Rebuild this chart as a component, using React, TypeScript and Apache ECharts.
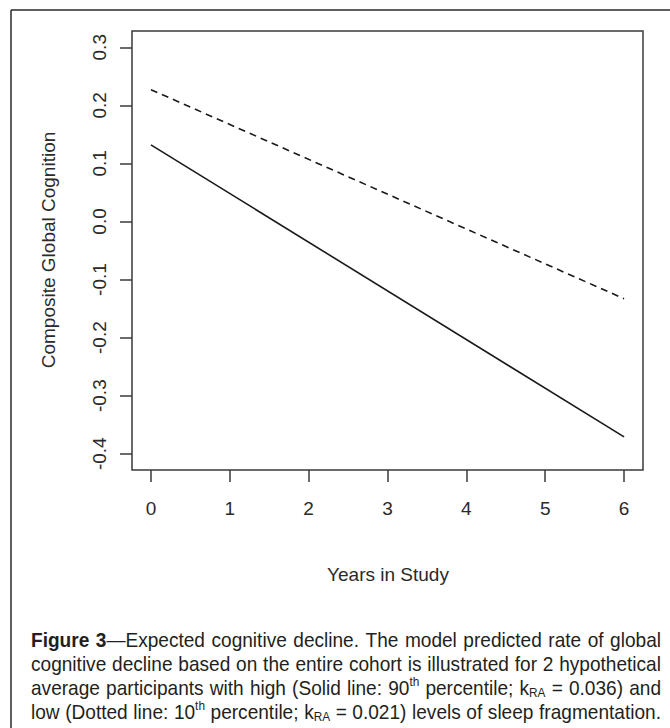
import React, { useEffect, useRef } from "react";
import * as echarts from "echarts";

// ---- data ----
const xYears = [0, 6];
const highFragmentation = [0.132, -0.371]; // solid line (90th percentile)
const lowFragmentation = [0.227, -0.133]; // dashed line (10th percentile)
const xTicks = [0, 1, 2, 3, 4, 5, 6];
const xTickLabels = ["0", "1", "2", "3", "4", "5", "6"];
const yTicks = [-0.4, -0.3, -0.2, -0.1, 0, 0.1, 0.2, 0.3];
const yTickLabels = ["-0.4", "-0.3", "-0.2", "-0.1", "0.0", "0.1", "0.2", "0.3"];
const xTitle = "Years in Study";
const yTitle = "Composite Global Cognition";

// caption lines: segments [text, style] where style: n=normal, b=bold, sup, sub
const captionLines: [string, string][][] = [
  [["Figure 3", "b"], ["—Expected cognitive decline. The model predicted rate of global", "n"]],
  [["cognitive decline based on the entire cohort is illustrated for 2 hypothetical", "n"]],
  [
    ["average participants with high (Solid line: 90", "n"],
    ["th", "sup"],
    [" percentile; k", "n"],
    ["RA", "sub"],
    [" = 0.036) and", "n"],
  ],
  [
    ["low (Dotted line: 10", "n"],
    ["th", "sup"],
    [" percentile; k", "n"],
    ["RA", "sub"],
    [" = 0.021) levels of sleep fragmentation.", "n"],
  ],
];

const TEXT = "#2a2a2a";
const AXIS_FONT = "'Liberation Sans', Arial, Helvetica, sans-serif";
const AXIS_SIZE = 19;

function hasFont(name: string) {
  const c = document.createElement("canvas").getContext("2d");
  if (!c) return false;
  const s = "abcdefghijklmnopqrstuvwxyz ABCDEFG 0123456789";
  c.font = "20px monospace";
  const a = c.measureText(s).width;
  c.font = `20px "${name}", monospace`;
  const b = c.measureText(s).width;
  return Math.abs(a - b) > 0.5;
}

function buildCaption() {
  const narrow = hasFont("Liberation Sans Narrow");
  const family = narrow ? "'Liberation Sans Narrow'" : "'Liberation Sans'";
  const ctx = document.createElement("canvas").getContext("2d")!;
  const left = 31;
  const right = 661;
  const firstY = 640;
  const lineGap = 24;
  const baseSize = 21;
  const smallSize = 13;
  const els: any[] = [];

  const measure = (piece: { text: string; st: string }) => {
    const size = piece.st === "sup" || piece.st === "sub" ? smallSize : baseSize;
    const weight = piece.st === "b" ? "bold" : "normal";
    ctx.font = `${weight} ${size}px ${family}`;
    return ctx.measureText(piece.text).width;
  };
  ctx.font = `normal ${baseSize}px ${family}`;
  const spaceW = ctx.measureText(" ").width;

  const allWords = captionLines.map((segs) => {
    const words: { text: string; st: string }[][] = [];
    let cur: { text: string; st: string }[] = [];
    segs.forEach(([text, st]) => {
      const parts = text.split(" ");
      parts.forEach((p, pi) => {
        if (pi > 0) {
          if (cur.length) words.push(cur);
          cur = [];
        }
        if (p.length) cur.push({ text: p, st });
      });
    });
    if (cur.length) words.push(cur);
    return words;
  });

  // horizontal scale so the fullest line fits with natural spaces
  let sx = 10;
  allWords.forEach((words) => {
    const tot = words.reduce((s, w) => s + w.reduce((a, p) => a + measure(p), 0), 0);
    const natural = tot + spaceW * 1.05 * (words.length - 1);
    sx = Math.min(sx, (right - left) / natural);
  });

  allWords.forEach((words, li) => {
    const wordWidths = words.map((w) => w.reduce((s, p) => s + measure(p) * sx, 0));
    const total = wordWidths.reduce((a, b) => a + b, 0);
    const gap = (right - left - total) / (words.length - 1);
    const cy = firstY + li * lineGap;
    let x = left;
    words.forEach((w) => {
      w.forEach((p) => {
        const small = p.st === "sup" || p.st === "sub";
        const dy = p.st === "sup" ? -6 : p.st === "sub" ? 5 : 0;
        els.push({
          type: "text",
          x,
          y: cy + dy,
          scaleX: sx,
          silent: true,
          style: {
            text: p.text,
            fontFamily: family,
            fontSize: small ? smallSize : baseSize,
            fontWeight: p.st === "b" ? "bold" : "normal",
            fill: "#231f20",
            align: "left",
            verticalAlign: "middle",
          },
        });
        x += measure(p) * sx;
      });
      x += gap;
    });
  });
  return els;
}

function yFormatter(v: number) {
  const i = yTicks.findIndex((t) => Math.abs(t - v) < 1e-9);
  return i >= 0 ? yTickLabels[i] : v.toFixed(1);
}
function xFormatter(v: number) {
  const i = xTicks.findIndex((t) => Math.abs(t - v) < 1e-9);
  return i >= 0 ? xTickLabels[i] : String(v);
}

export default function App() {
  const ref = useRef<HTMLDivElement>(null);
  useEffect(() => {
    if (!ref.current) return;
    const chart = echarts.init(ref.current, null, { renderer: "svg" });
    const option: any = {
      animation: false,
      backgroundColor: "#ffffff",
      grid: {
        left: 132,
        top: 31,
        right: 27,
        bottom: 258,
        show: true,
        borderColor: "#3a3a3a",
        borderWidth: 1.5,
        backgroundColor: "transparent",
      },
      xAxis: {
        type: "value",
        min: -0.24,
        max: 6.24,
        axisLine: { show: false, onZero: false },
        splitLine: { show: false },
        axisTick: {
          show: true,
          inside: false,
          length: 12,
          customValues: xTicks,
          lineStyle: { color: "#3a3a3a", width: 1.5 },
        },
        axisLabel: {
          customValues: xTicks,
          formatter: xFormatter,
          margin: 29,
          color: TEXT,
          fontSize: AXIS_SIZE,
          fontFamily: AXIS_FONT,
        },
      },
      yAxis: {
        type: "value",
        min: -0.428,
        max: 0.328,
        axisLine: { show: false, onZero: false },
        splitLine: { show: false },
        axisTick: {
          show: true,
          inside: false,
          length: 12,
          customValues: yTicks,
          lineStyle: { color: "#3a3a3a", width: 1.5 },
        },
        axisLabel: {
          customValues: yTicks,
          formatter: yFormatter,
          rotate: 90,
          margin: 23,
          color: TEXT,
          fontSize: AXIS_SIZE,
          fontFamily: AXIS_FONT,
        },
      },
      series: [
        {
          type: "line",
          name: "High fragmentation",
          data: xYears.map((x, i) => [x, highFragmentation[i]]),
          symbol: "none",
          silent: true,
          lineStyle: { color: "#1a1a1a", width: 1.6, type: "solid" },
        },
        {
          type: "line",
          name: "Low fragmentation",
          data: xYears.map((x, i) => [x, lowFragmentation[i]]),
          symbol: "none",
          silent: true,
          lineStyle: { color: "#1a1a1a", width: 1.6, type: [7, 5] },
        },
      ],
      graphic: [
        {
          type: "line",
          silent: true,
          shape: { x1: 11, y1: 10, x2: 670, y2: 10 },
          style: { stroke: "#2a2a2a", lineWidth: 1.5 },
        },
        {
          type: "line",
          silent: true,
          shape: { x1: 11, y1: 10, x2: 11, y2: 728 },
          style: { stroke: "#2a2a2a", lineWidth: 1.5 },
        },
        {
          type: "text",
          x: 388,
          y: 574,
          silent: true,
          style: {
            text: xTitle,
            fontSize: AXIS_SIZE,
            fontFamily: AXIS_FONT,
            fill: TEXT,
            align: "center",
            verticalAlign: "middle",
          },
        },
        {
          type: "text",
          x: 48,
          y: 250,
          rotation: Math.PI / 2,
          silent: true,
          style: {
            text: yTitle,
            fontSize: AXIS_SIZE,
            fontFamily: AXIS_FONT,
            fill: TEXT,
            align: "center",
            verticalAlign: "middle",
          },
        },
        ...buildCaption(),
      ],
    };
    chart.setOption(option);
    return () => chart.dispose();
  }, []);
  return (
    <div
      ref={ref}
      style={{ position: "fixed", left: 0, top: 0, width: 670, height: 728, background: "#fff" }}
    />
  );
}
